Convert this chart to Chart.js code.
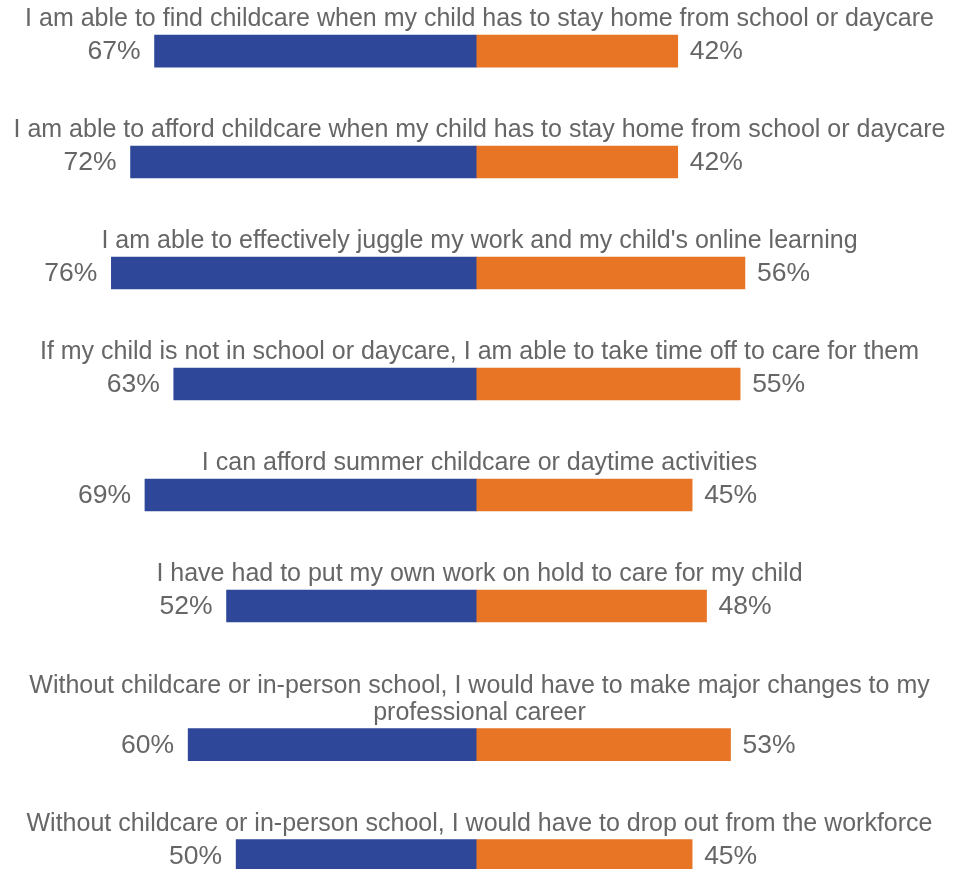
<!DOCTYPE html>
<html>
<head>
<meta charset="utf-8">
<script src="https://cdn.jsdelivr.net/npm/chart.js@4"></script>
<style>
  body { margin: 0; background: #fff; }
  #wrap { width: 959px; height: 869px; position: relative; }
</style>
</head>
<body>
<div id="wrap"><canvas id="chart"></canvas></div>
<script>
// -------------- DATA ------------------

const categories = [
    "I am able to find childcare when my child has to stay home from school or daycare",
    "I am able to afford childcare when my child has to stay home from school or daycare",
    "I am able to effectively juggle my work and my child's online learning",
    "If my child is not in school or daycare, I am able to take time off to care for them",
    "I can afford summer childcare or daytime activities",
    "I have had to put my own work on hold to care for my child",
    ["Without childcare or in-person school, I would have to make major changes to my", "professional career"],
    "Without childcare or in-person school, I would have to drop out from the workforce",
];

const blueValues = [67, 72, 76, 63, 69, 52, 60, 50];
const orangeValues = [42, 42, 56, 55, 45, 48, 53, 45];

// row positions follow the number of label lines (an extra line pushes the row down)
const lineCounts = categories.map(c => Array.isArray(c) ? c.length : 1);
const rowPos = [];
lineCounts.forEach((n, i) => {
    rowPos.push(i === 0 ? 0 : rowPos[i - 1] + 1 + (n - 1) * 0.25);
});

const TEXT = "#666666";
const FONT = "'Liberation Sans', Arial, Helvetica, sans-serif";

// ------------ LABEL PLUGIN ------------------

const labelPlugin = {
    id: "labels",
    afterDatasetsDraw(chart) {
        const c = chart.ctx;
        const blueMeta = chart.getDatasetMeta(0);
        const orangeMeta = chart.getDatasetMeta(1);
        c.save();
        c.fillStyle = TEXT;
        c.textBaseline = "middle";
        categories.forEach((cat, i) => {
            const b = blueMeta.data[i];
            const o = orangeMeta.data[i];
            // percentages
            c.font = "26.5px " + FONT;
            c.textAlign = "right";
            c.fillText(blueValues[i] + "%", b.x - 14, b.y + 1);
            c.textAlign = "left";
            c.fillText(orangeValues[i] + "%", o.x + 12, o.y + 1);
            // question text above the bar
            const lines = Array.isArray(cat) ? cat : [cat];
            c.font = "25px " + FONT;
            c.textAlign = "center";
            lines.forEach((ln, k) => {
                c.fillText(ln, chart.width / 2, b.y - 32 - (lines.length - 1 - k) * 27);
            });
        });
        c.restore();
    },
};

// ------------ CREATE CHART ------------------

const ctx = document.getElementById("chart");

new Chart(ctx, {
    type: "bar",
    data: {
        datasets: [
            {
                label: "Blue",
                data: blueValues.map((v, i) => ({ x: -v, y: rowPos[i] })),
                backgroundColor: "#2E4799",
                barThickness: 32,
            },
            {
                label: "Orange",
                data: orangeValues.map((v, i) => ({ x: v, y: rowPos[i] })),
                backgroundColor: "#E87426",
                barThickness: 32,
            },
        ],
    },
    options: {
        indexAxis: "y",
        responsive: true,
        maintainAspectRatio: false,
        animation: false,
        layout: { padding: 0 },
        scales: {
            x: { type: "linear", stacked: true, min: -99.2, max: 100.6, display: false, offset: false },
            y: { type: "linear", stacked: true, reverse: true, min: -0.46, max: 7.37, display: false, offset: false },
        },
        plugins: {
            legend: { display: false },
            tooltip: { enabled: false },
        },
    },
    plugins: [labelPlugin],
});
</script>
</body>
</html>
